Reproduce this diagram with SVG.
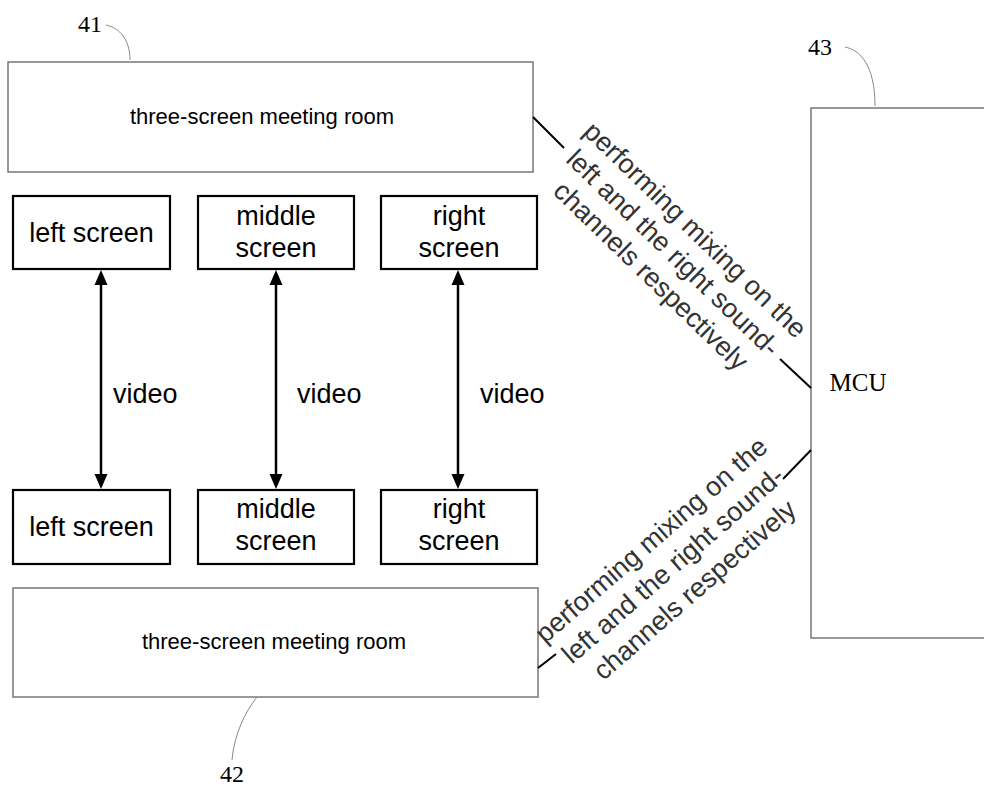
<svg xmlns="http://www.w3.org/2000/svg" width="984" height="786" viewBox="0 0 984 786">
<defs>
<style>
.room{fill:#fff;stroke:#777;stroke-width:1.5}
.scr{fill:#fff;stroke:#000;stroke-width:2.2}
.lbl{font-family:"Liberation Sans",Arial,sans-serif;font-size:27px;fill:#000;text-anchor:middle}
.vid{font-family:"Liberation Sans",Arial,sans-serif;font-size:27px;fill:#000}
.rt{font-family:"Liberation Sans",Arial,sans-serif;font-size:22px;fill:#000;text-anchor:middle}
.diag{font-family:"Liberation Sans",Arial,sans-serif;font-size:27px;fill:#333;text-anchor:middle}
.num{font-family:"Liberation Serif","Times New Roman",serif;font-size:24px;fill:#000}
.lead{fill:none;stroke:#888;stroke-width:1}
.conn{fill:none;stroke:#000;stroke-width:2}
.shaft{fill:none;stroke:#000;stroke-width:2.5}
.head{fill:#000}
</style>
</defs>

<g id="room41">
<rect class="room" x="8" y="62" width="525" height="110"/>
<text class="rt" x="262" y="124">three-screen meeting room</text>
<text class="num" x="78" y="32">41</text>
<path class="lead" d="M106,25 C120,28 130,40 130,60"/>
</g>

<g id="room42">
<rect class="room" x="13" y="588" width="525" height="109"/>
<text class="rt" x="274" y="649">three-screen meeting room</text>
<text class="num" x="220" y="782">42</text>
<path class="lead" d="M257,697 C245,712 234,735 232,760"/>
</g>

<g id="mcu">
<rect class="room" x="811" y="108" width="190" height="530"/>
<text class="num" x="858" y="391" text-anchor="middle" style="font-size:25px">MCU</text>
<text class="num" x="808" y="55">43</text>
<path class="lead" d="M845,47 C860,50 875,65 875,106"/>
</g>

<g id="left-screen-top">
<rect class="scr" x="13" y="196" width="157" height="73"/>
<text class="lbl" x="91.5" y="242">left screen</text>
</g>
<g id="middle-screen-top">
<rect class="scr" x="198" y="196" width="156" height="73"/>
<text class="lbl" x="276" y="225">middle</text>
<text class="lbl" x="276" y="257">screen</text>
</g>
<g id="right-screen-top">
<rect class="scr" x="381" y="196" width="156" height="73"/>
<text class="lbl" x="459" y="225">right</text>
<text class="lbl" x="459" y="257">screen</text>
</g>
<g id="left-screen-bottom">
<rect class="scr" x="13" y="490" width="157" height="74"/>
<text class="lbl" x="91.5" y="536">left screen</text>
</g>
<g id="middle-screen-bottom">
<rect class="scr" x="198" y="490" width="156" height="74"/>
<text class="lbl" x="276" y="518">middle</text>
<text class="lbl" x="276" y="550">screen</text>
</g>
<g id="right-screen-bottom">
<rect class="scr" x="381" y="490" width="156" height="74"/>
<text class="lbl" x="459" y="518">right</text>
<text class="lbl" x="459" y="550">screen</text>
</g>

<g id="connectors">
<line class="shaft" x1="101" y1="280" x2="101" y2="478"/>
<path class="head" d="M101,270 L94.5,285 L107.5,285 z"/>
<path class="head" d="M101,489 L94.5,474 L107.5,474 z"/>
<line class="shaft" x1="276" y1="280" x2="276" y2="478"/>
<path class="head" d="M276,270 L269.5,285 L282.5,285 z"/>
<path class="head" d="M276,489 L269.5,474 L282.5,474 z"/>
<line class="shaft" x1="458" y1="280" x2="458" y2="478"/>
<path class="head" d="M458,270 L451.5,285 L464.5,285 z"/>
<path class="head" d="M458,489 L451.5,474 L464.5,474 z"/>
<text class="vid" x="113" y="403">video</text>
<text class="vid" x="297" y="403">video</text>
<text class="vid" x="480" y="403">video</text>

<line class="conn" x1="533" y1="117" x2="564" y2="148"/>
<line class="conn" x1="780" y1="359" x2="811" y2="388"/>
<g transform="translate(673,253) rotate(44)">
<text class="diag" x="0" y="-23">performing mixing on the</text>
<text class="diag" x="0" y="9">left and the right sound-</text>
<text class="diag" x="0" y="41">channels respectively</text>
</g>

<line class="conn" x1="538" y1="668" x2="556" y2="654"/>
<line class="conn" x1="783" y1="479" x2="811" y2="450"/>
<g transform="translate(673,565) rotate(-41)">
<text class="diag" x="0" y="-24">performing mixing on the</text>
<text class="diag" x="0" y="9">left and the right sound-</text>
<text class="diag" x="0" y="42">channels respectively</text>
</g>
</g>
</svg>
